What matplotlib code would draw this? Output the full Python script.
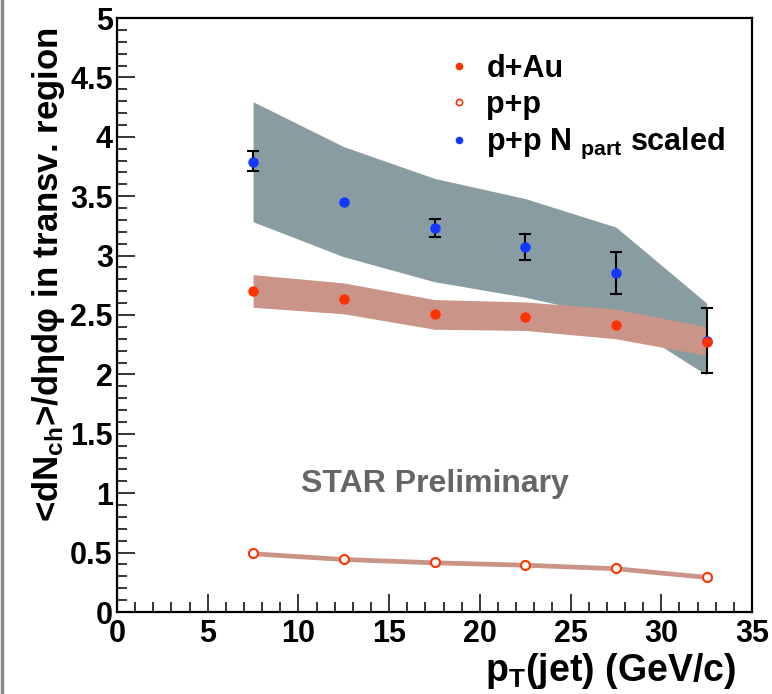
import numpy as np
import matplotlib
matplotlib.use("Agg")
import matplotlib.pyplot as plt
from matplotlib.lines import Line2D
from matplotlib.ticker import MultipleLocator, FuncFormatter

plt.rcParams['font.family'] = ['Liberation Sans', 'DejaVu Sans']
plt.rcParams['font.weight'] = 'bold'
plt.rcParams['axes.labelweight'] = 'bold'
plt.rcParams['mathtext.fontset'] = 'custom'
plt.rcParams['mathtext.rm'] = 'Liberation Sans:bold'
plt.rcParams['mathtext.it'] = 'Liberation Sans:bold'
plt.rcParams['mathtext.bf'] = 'Liberation Sans:bold'

# jet pT bin centres
pt = [7.5, 12.5, 17.5, 22.5, 27.5, 32.5]

# d+Au
dau = [2.70, 2.635, 2.505, 2.485, 2.42, 2.27]
dau_sys_hi = [2.84, 2.77, 2.63, 2.61, 2.55, 2.40]
dau_sys_lo = [2.565, 2.51, 2.38, 2.37, 2.30, 2.16]

# p+p
pp = [0.494, 0.446, 0.418, 0.398, 0.368, 0.295]
pp_sys = [0.02, 0.02, 0.02, 0.02, 0.02, 0.02]

# p+p Npart scaled (stat error too small to see at 12.5)
ppsc = [3.79, 3.45, 3.235, 3.07, 2.853, 2.285]
ppsc_err_hi = [0.09, np.nan, 0.075, 0.11, 0.18, 0.27]
ppsc_err_lo = [0.08, np.nan, 0.075, 0.11, 0.18, 0.275]
ppsc_sys_hi = [4.295, 3.917, 3.65, 3.48, 3.24, 2.60]
ppsc_sys_lo = [3.285, 2.99, 2.78, 2.65, 2.48, 1.995]

red = '#ff3300'
blue = '#1438ff'
grey_band = '#889ca1'
red_band = '#ca9489'

fig = plt.figure(figsize=(7.72, 6.94), dpi=100)
ax = fig.add_axes([117/772, 1-612/694, (752-117)/772, (612-18)/694])

ax.fill_between(pt, ppsc_sys_lo, ppsc_sys_hi, color=grey_band, lw=0, zorder=1)
ax.fill_between(pt, dau_sys_lo, dau_sys_hi, color=red_band, lw=0, zorder=2)
pp_arr = np.array(pp)
pp_s = np.array(pp_sys)
ax.fill_between(pt, pp_arr - pp_s, pp_arr + pp_s, color=red_band, lw=0, zorder=2)

ax.errorbar(pt, ppsc, yerr=[ppsc_err_lo, ppsc_err_hi], fmt='o', color=blue,
            ms=6.5, mec=blue, ecolor='black', elinewidth=1.5, capsize=4,
            capthick=1.5, zorder=3)
ax.plot(pt, dau, 'o', color=red, ms=6.5, zorder=4)
ax.plot(pt, pp, 'o', mfc='white', mec=red, mew=1.5, ms=6.5, zorder=4)

ax.set_xlim(0, 35)
ax.set_ylim(0, 5)
ax.xaxis.set_major_locator(MultipleLocator(5))
ax.xaxis.set_minor_locator(MultipleLocator(1))
ax.yaxis.set_major_locator(MultipleLocator(0.5))
ax.yaxis.set_minor_locator(MultipleLocator(0.1))
ax.tick_params(which='both', direction='in', top=False, right=False, width=1.1)
ax.tick_params(which='major', length=13, labelsize=22, pad=5)
ax.tick_params(axis='y', which='major', pad=3)
ax.tick_params(which='minor', length=7)
ax.yaxis.set_major_formatter(FuncFormatter(lambda v, p: f'{v:g}'))
for s in ax.spines.values():
    s.set_linewidth(1.6)

ax.set_xlabel(r'p$_{\rm T}$(jet) (GeV/c)', fontsize=27, loc='right')
ax.xaxis.set_label_coords(0.975, -0.066)
ax.set_ylabel(r'<dN$_{\rm ch}$>/dηdφ in transv. region', fontsize=25, loc='top')
ax.yaxis.set_label_coords(-0.078, 0.985)

ax.text(0.5, 0.215, 'STAR Preliminary', transform=ax.transAxes, fontsize=23,
        color='#666666', ha='center', va='center')

handles = [
    Line2D([], [], ls='none', marker='o', color=red, ms=4.5),
    Line2D([], [], ls='none', marker='o', mfc='white', mec=red, mew=1.2, ms=4.5),
    Line2D([], [], ls='none', marker='o', color=blue, ms=4.5),
]
labels = ['d+Au', 'p+p', r'p+p N $_{\rm part}$ scaled']
ax.legend(handles, labels, loc='upper left', bbox_to_anchor=(0.50, 0.96),
          frameon=False, fontsize=22, handlelength=0.8, handletextpad=0.5,
          labelspacing=0.2, borderaxespad=0)

fig.add_artist(Line2D([0.002, 0.002], [0, 1], color='#888888', lw=2.5,
                      transform=fig.transFigure))

fig.savefig('out.png', dpi=100)
